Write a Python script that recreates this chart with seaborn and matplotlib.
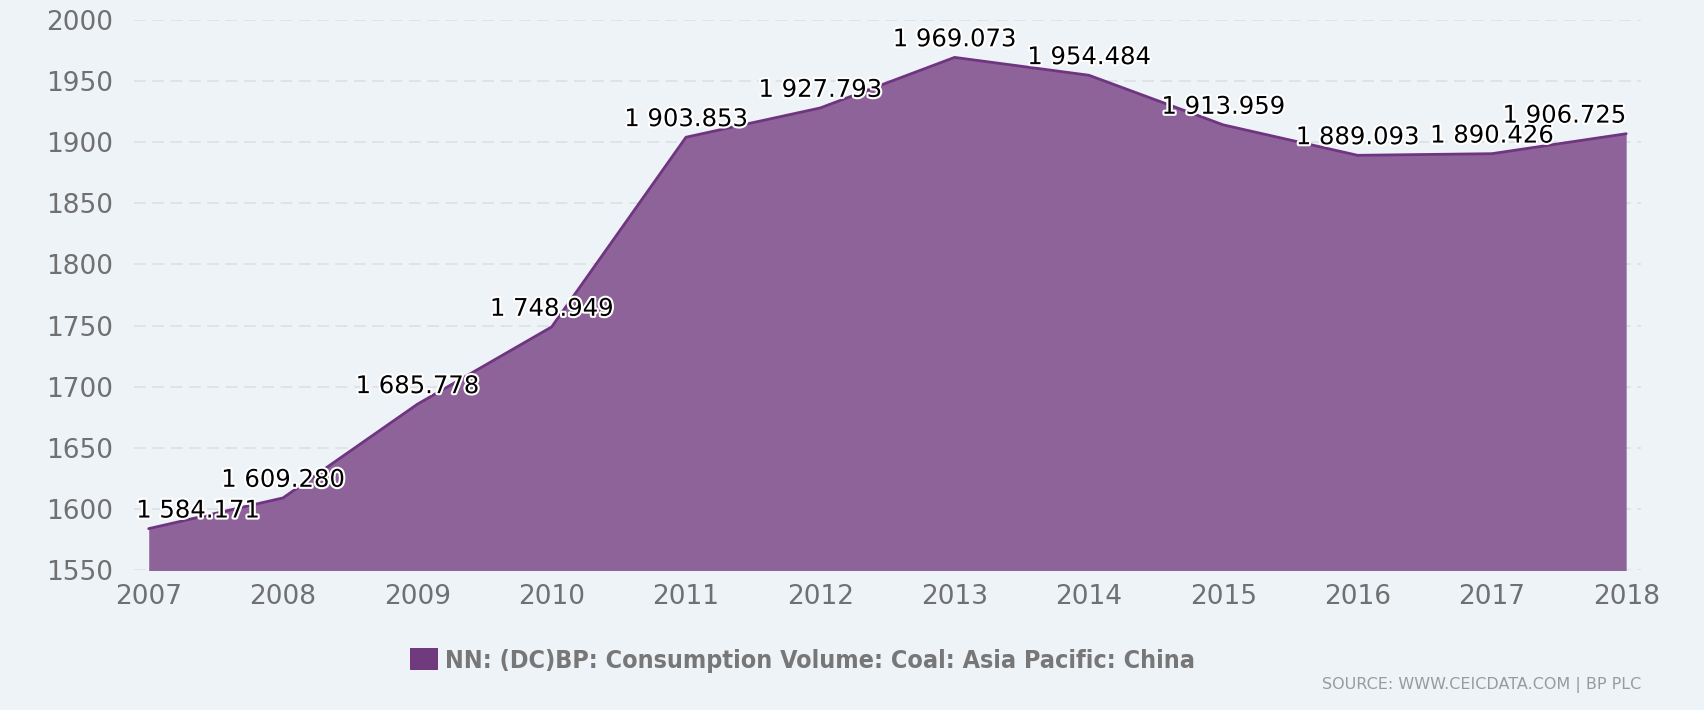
import matplotlib
matplotlib.use('Agg')
import matplotlib.pyplot as plt
import matplotlib.patheffects as pe
from matplotlib.patches import Patch
import seaborn as sns
import pandas as pd

# данные: потребление угля, Китай (BP)
years = [2007, 2008, 2009, 2010, 2011, 2012, 2013, 2014, 2015, 2016, 2017, 2018]
values = [1584.171, 1609.280, 1685.778, 1748.949, 1903.853, 1927.793,
          1969.073, 1954.484, 1913.959, 1889.093, 1890.426, 1906.725]
y_ticks = [1550, 1600, 1650, 1700, 1750, 1800, 1850, 1900, 1950, 2000]
series_name = 'NN: (DC)BP: Consumption Volume: Coal: Asia Pacific: China'
source_text = 'SOURCE: WWW.CEICDATA.COM | BP PLC'

bg = '#eef3f8'
line_color = '#6f3580'
fill_color = '#8e6399'
tick_color = '#707070'

df = pd.DataFrame({'year': years, 'value': values})

sns.set_style('white')
plt.rcParams['font.family'] = ['DejaVu Sans']

fig = plt.figure(figsize=(17.04, 7.1), dpi=100, facecolor=bg)
ax = fig.add_axes([0.0786, 0.1965, 0.963 - 0.0786, 0.9725 - 0.1965])
ax.set_facecolor(bg)

ax.fill_between(df['year'], df['value'], 1550, color=fill_color, linewidth=0, zorder=2)
sns.lineplot(data=df, x='year', y='value', ax=ax, color=line_color, linewidth=2, zorder=3)

ax.set_xlim(2006.89, 2018.11)
ax.set_ylim(1550, 2000)
ax.set_xticks(years)
ax.set_yticks(y_ticks)
ax.set_xlabel('')
ax.set_ylabel('')
ax.tick_params(axis='both', length=0, labelsize=19, labelcolor=tick_color)
ax.tick_params(axis='y', pad=15)
ax.tick_params(axis='x', pad=10)
ax.grid(axis='y', color='#dcdfe3', linestyle=(0, (7, 4)), linewidth=1.2, zorder=1)
ax.grid(axis='x', visible=False)
for s in ax.spines.values():
    s.set_visible(False)

# подписи значений
for i, (x, v) in enumerate(zip(years, values)):
    label = f'{v:,.3f}'.replace(',', ' ')
    ha, dx = 'center', 0
    if i == 0:
        ha, dx = 'left', -9
    elif i == len(years) - 1:
        ha, dx = 'right', 0
    ax.annotate(label, (x, v), xytext=(dx, 8), textcoords='offset points',
                ha=ha, va='baseline', fontsize=17.5, color='black', zorder=5,
                annotation_clip=False,
                path_effects=[pe.withStroke(linewidth=3, foreground='white')])

handle = Patch(facecolor='#6f3a7e', edgecolor='none')
fig.legend([handle], [series_name], loc='center', bbox_to_anchor=(0.471, 0.07),
           frameon=False, handlelength=1.1, handleheight=1.0, handletextpad=0.3,
           prop={'family': 'DejaVu Sans', 'stretch': 'condensed', 'weight': 'bold', 'size': 18})
for t in fig.legends[0].get_texts():
    t.set_color('#777777')

fig.text(0.963, 0.035, source_text, ha='right', va='center', fontsize=11.5, color='#9a9a9a')

plt.savefig('out.png', dpi=100, facecolor=bg)
